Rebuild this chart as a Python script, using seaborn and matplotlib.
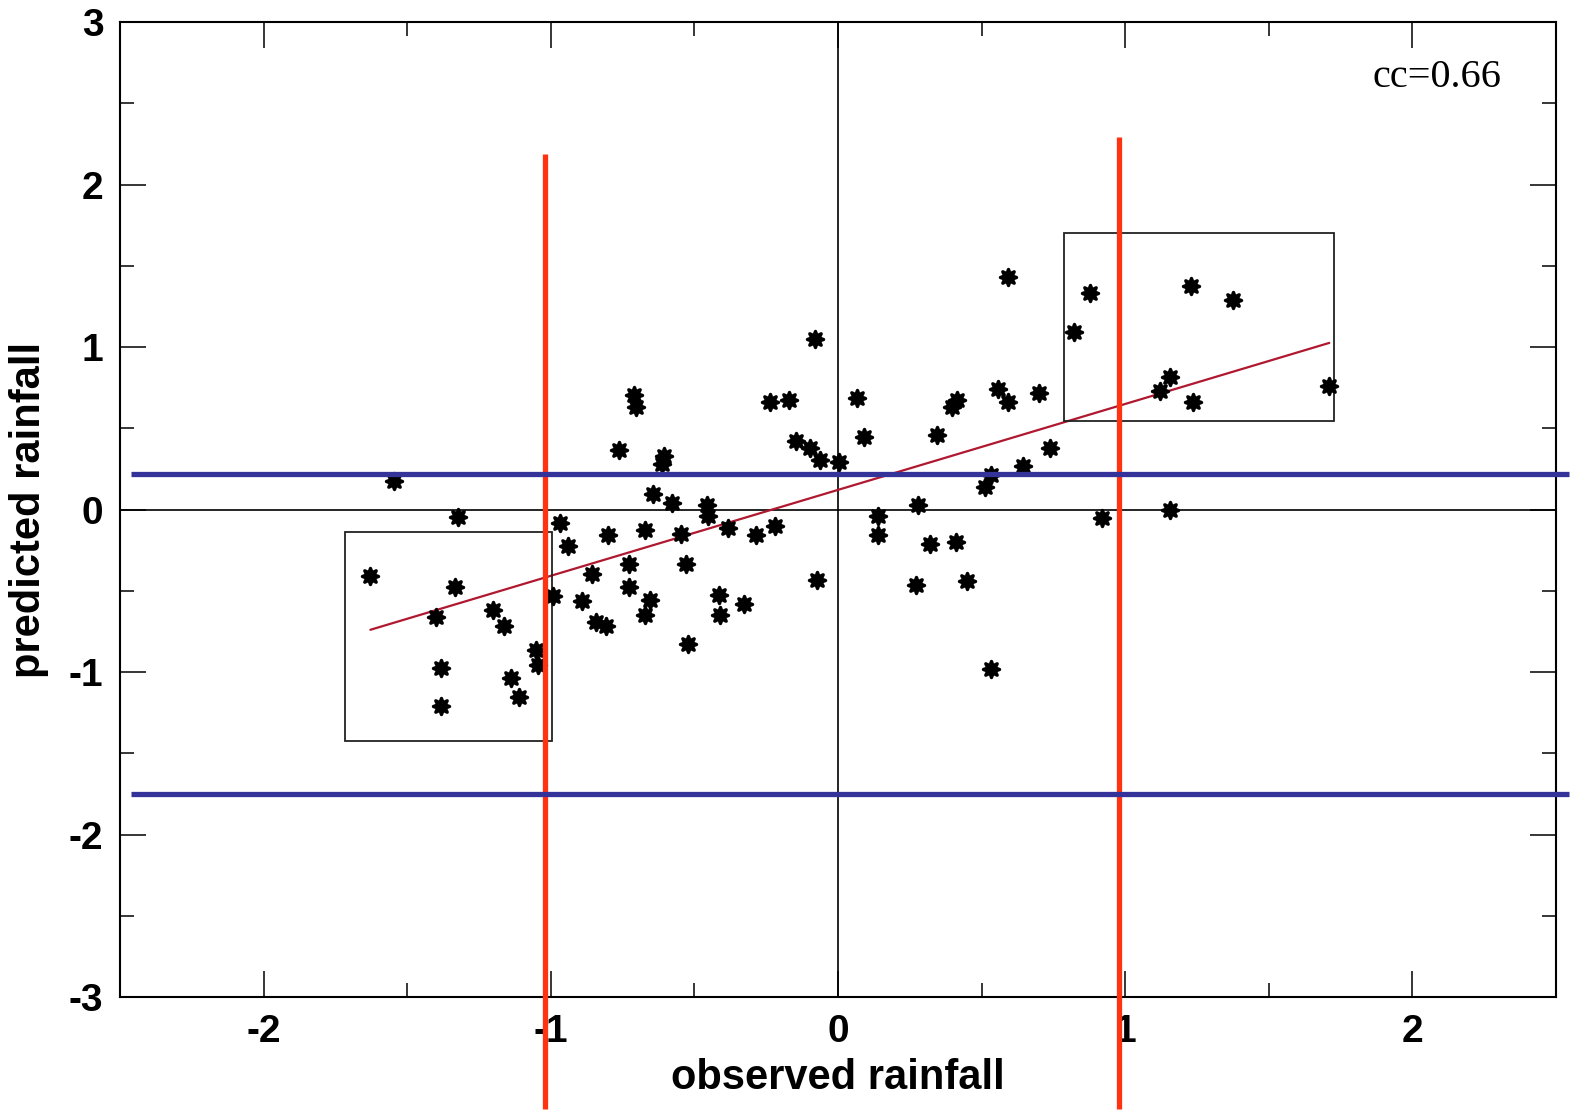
import numpy as np
import pandas as pd
import matplotlib.pyplot as plt
import seaborn as sns
from matplotlib.ticker import MultipleLocator

# observed / predicted rainfall anomalies
observed = [-1.544, -1.322, -1.628, -1.332, -1.398, -1.200, -1.162, -1.381, -1.381, -1.137,
            -1.110, -1.050, -1.043, -0.967, -0.939, -0.991, -0.890, -0.710, -0.703, -0.762,
            -0.605, -0.612, -0.643, -0.577, -0.456, -0.452, -0.800, -0.671, -0.546, -0.383,
            -0.285, -0.219, -0.727, -0.856, -0.529, -0.727, -0.654, -0.671, -0.414, -0.410,
            -0.327, -0.842, -0.807, -0.522, -0.073, -0.237, -0.170, -0.146, -0.097, -0.063,
            0.003, -0.080, 0.066, 0.090, 0.344, 0.397, 0.414, 0.557, 0.591, 0.699,
            0.643, 0.532, 0.511, 0.278, 0.139, 0.139, 0.320, 0.410, 0.271, 0.449,
            0.532, 0.591, 0.877, 0.821, 1.228, 1.374, 1.155, 1.123, 1.235, 1.711,
            0.737, 0.918, 1.155]
predicted = [0.178, -0.043, -0.406, -0.474, -0.658, -0.615, -0.714, -0.972, -1.206, -1.034,
             -1.151, -0.862, -0.954, -0.080, -0.222, -0.529, -0.560, 0.708, 0.634, 0.369,
             0.332, 0.283, 0.098, 0.043, 0.031, -0.037, -0.154, -0.123, -0.148, -0.111,
             -0.154, -0.098, -0.332, -0.394, -0.332, -0.474, -0.554, -0.646, -0.523, -0.646,
             -0.578, -0.689, -0.714, -0.825, -0.431, 0.665, 0.677, 0.425, 0.382, 0.308,
             0.295, 1.052, 0.689, 0.449, 0.462, 0.634, 0.677, 0.745, 0.665, 0.720,
             0.271, 0.215, 0.142, 0.031, -0.037, -0.154, -0.209, -0.197, -0.462, -0.437,
             -0.978, 1.434, 1.335, 1.095, 1.378, 1.292, 0.818, 0.732, 0.665, 0.763,
             0.382, -0.049, 0.000]

# threshold lines and highlighted boxes
obs_thresholds = [-1.02, 0.98]
pred_thresholds = [0.222, -1.748]
boxes = [(-1.718, -1.422, 0.723, 1.287), (0.786, 0.548, 0.943, 1.157)]  # x, y, w, h

df = pd.DataFrame({"observed": observed, "predicted": predicted})
print("cc =", round(df.corr().iloc[0, 1], 2))

sns.set_style("ticks")
plt.rcParams["font.family"] = ["Liberation Sans Narrow", "Liberation Sans", "DejaVu Sans"]
plt.rcParams["axes.unicode_minus"] = False
plt.rcParams["text.color"] = "black"
plt.rcParams["axes.labelcolor"] = "black"
plt.rcParams["xtick.color"] = "black"
plt.rcParams["ytick.color"] = "black"

fig = plt.figure(figsize=(15.7, 11.11), dpi=100)
ax = fig.add_axes([0.0764, 0.1026, 0.9146, 0.8774])

ax.axhline(0, color="black", lw=1.2, zorder=1)
ax.axvline(0, color="black", lw=1.2, zorder=1)

sns.regplot(data=df, x="observed", y="predicted", scatter=False, ci=None, truncate=True,
            color="#b01830", line_kws={"lw": 1.6}, ax=ax)
sns.scatterplot(data=df, x="observed", y="predicted", marker=(8, 1, 0), s=135,
                color="black", edgecolor="black", linewidth=2.4, zorder=3, ax=ax)

for x0, y0, w, h in boxes:
    ax.add_patch(plt.Rectangle((x0, y0), w, h, fill=False, ec="#222222", lw=1.3, zorder=2))

# threshold lines run past the frame like in the original
for xv, top in zip(obs_thresholds, [2.19, 2.295]):
    ax.plot([xv, xv], [top, -3.69], color="#ff3311", lw=3.8, clip_on=False, zorder=4,
            solid_capstyle="butt")
for yv in pred_thresholds:
    ax.plot([-2.463, 2.546], [yv, yv], color="#333399", lw=3.8, clip_on=False, zorder=4,
            solid_capstyle="butt")

ax.set_xlim(-2.5, 2.5)
ax.set_ylim(-3, 3)
ax.xaxis.set_major_locator(MultipleLocator(1))
ax.xaxis.set_minor_locator(MultipleLocator(0.5))
ax.yaxis.set_major_locator(MultipleLocator(1))
ax.yaxis.set_minor_locator(MultipleLocator(0.5))
ax.tick_params(which="both", direction="in", top=True, right=True, width=1.1, color="black")
ax.tick_params(which="major", length=19, labelsize=28, pad=12)
ax.tick_params(which="minor", length=10)
for lab in ax.get_xticklabels() + ax.get_yticklabels():
    lab.set_fontweight("bold")
for sp in ax.spines.values():
    sp.set_linewidth(1.5)
    sp.set_color("black")

ax.set_xlabel("observed rainfall", fontsize=30, fontweight="bold", labelpad=6)
ax.set_ylabel("predicted rainfall", fontsize=30, fontweight="bold", labelpad=14)
ax.text(0.962, 0.943, "cc=0.66", transform=ax.transAxes, ha="right", va="center",
        fontsize=29, family=["Liberation Serif", "DejaVu Serif"])

fig.savefig("out.png", dpi=100)
